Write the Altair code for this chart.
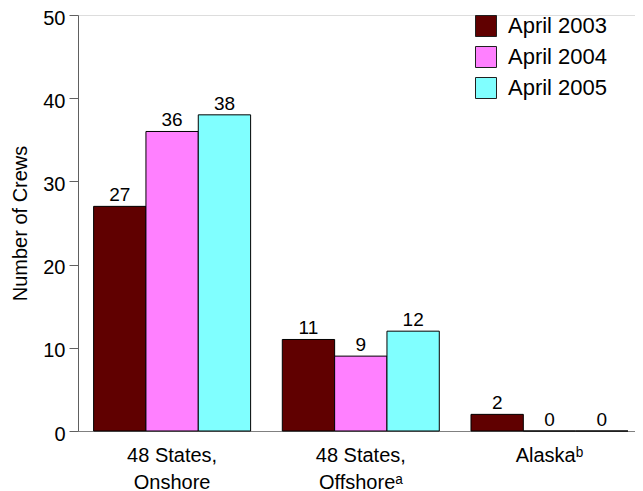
import altair as alt
import pandas as pd

categories = ["48 States,\nOnshore", "48 States,\nOffshoreᵃ", "Alaskaᵇ"]
years = ["April 2003", "April 2004", "April 2005"]
values = {
    "April 2003": [27, 11, 2],
    "April 2004": [36, 9, 0],
    "April 2005": [38, 12, 0],
}
colors = ["#600000", "#FF80FF", "#80FFFF"]

rows = []
for y in years:
    for c, v in zip(categories, values[y]):
        rows.append({"category": c, "year": y, "crews": v})
df = pd.DataFrame(rows)

FONT = "Liberation Sans"

x_enc = alt.X(
    "category:N",
    sort=categories,
    scale=alt.Scale(paddingInner=0.168, paddingOuter=0.06, align=0.69),
    axis=alt.Axis(
        title=None,
        labelAngle=0,
        labelExpr="split(datum.label, '\\n')",
        labelFontSize=20,
        labelFont=FONT,
        labelColor="black",
        labelLineHeight=27,
        labelPadding=14,
        labelBaseline="top",
        ticks=False,
        domainColor="#808080",
        domainWidth=1,
    ),
)
xoff = alt.XOffset("year:N", sort=years, scale=alt.Scale(paddingInner=0, paddingOuter=0))

base = alt.Chart(df)

bars = base.mark_bar(stroke="black", strokeWidth=1).encode(
    x=x_enc,
    xOffset=xoff,
    y=alt.Y(
        "crews:Q",
        scale=alt.Scale(domain=[0, 50], nice=False),
        axis=alt.Axis(
            title="Number of Crews",
            titleFont=FONT,
            titleFontSize=20,
            titleFontWeight="normal",
            titleColor="black",
            titlePadding=12,
            values=[0, 10, 20, 30, 40, 50],
            labelFont=FONT,
            labelFontSize=20,
            labelColor="black",
            labelPadding=4,
            labelOffset=3,
            tickSize=9,
            tickColor="#606060",
            domainColor="#606060",
            grid=False,
        ),
    ),
    color=alt.Color(
        "year:N",
        sort=years,
        scale=alt.Scale(domain=years, range=colors),
        legend=alt.Legend(
            title=None,
            orient="none",
            legendX=397,
            legendY=0,
            symbolType="square",
            symbolSize=441,
            symbolStrokeColor="#202020",
            symbolStrokeWidth=1,
            symbolOpacity=1,
            labelFont=FONT,
            labelFontSize=22,
            labelColor="black",
            labelOffset=11,
            rowPadding=5,
        ),
    ),
)

labels = base.mark_text(baseline="alphabetic", dy=-5, fontSize=19, font=FONT, color="black").encode(
    x=alt.X("category:N", sort=categories),
    xOffset=xoff,
    y=alt.Y("crews:Q"),
    text=alt.Text("crews:Q"),
)

chart = (
    alt.layer(bars, labels)
    .properties(
        width=557,
        height=416,
        autosize=alt.AutoSizeParams(type="none"),
        padding={"left": 70, "top": 7, "right": 0, "bottom": 60},
    )
    .configure_view(stroke=None)
    .configure(background="white")
)

chart.save("out.html", embed_options={"renderer": "svg", "actions": False})
